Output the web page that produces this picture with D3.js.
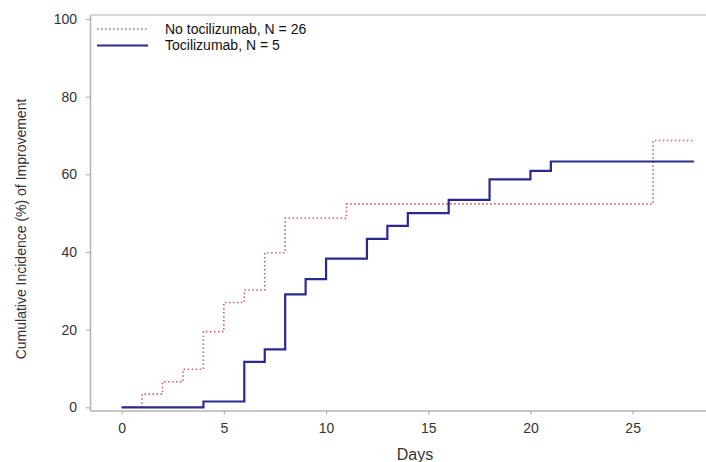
<!DOCTYPE html>
<html><head><meta charset="utf-8">
<script src="https://cdn.jsdelivr.net/npm/d3@7"></script>
<style>body{margin:0;background:#fff}svg{display:block;font-family:"Liberation Sans",Arial,sans-serif}</style>
</head><body><svg id="c" width="706" height="462"></svg>
<script>
// Data (days, cumulative incidence %)
const seriesNames = ["No tocilizumab, N = 26", "Tocilizumab, N = 5"];
const noTociDays = [0, 1, 2, 3, 4, 5, 6, 7, 8, 11, 26, 28];
const noTociValues = [0, 3.4, 6.6, 9.8, 19.5, 27.0, 30.2, 39.8, 48.7, 52.4, 68.7, 68.7];
const tociDays = [0, 4, 6, 7, 8, 9, 10, 12, 13, 14, 16, 18, 20, 21, 28];
const tociValues = [0, 1.5, 11.7, 14.9, 29.1, 33.0, 38.3, 43.4, 46.7, 50.0, 53.4, 58.7, 60.9, 63.3, 63.3];
const xTicks = [0, 5, 10, 15, 20, 25];
const yTicks = [0, 20, 40, 60, 80, 100];

const svg = d3.select("#c");
const x = d3.scaleLinear().domain([-1.55, 28.59]).range([90, 706]);
const y = d3.scaleLinear().domain([-0.82, 101.03]).range([410.5, 15]);
const axisColor = "#b3b3b3", textColor = "#333";

// top border
svg.append("line").attr("x1", 90).attr("x2", 706).attr("y1", 15).attr("y2", 15)
  .attr("stroke", "#c8c8c8").attr("stroke-width", 1.5);

const xa = svg.append("g").attr("transform", "translate(0,410.5)")
  .call(d3.axisBottom(x).tickValues(xTicks).tickSize(4).tickSizeOuter(0).tickPadding(9));
const ya = svg.append("g").attr("transform", "translate(90,0)")
  .call(d3.axisLeft(y).tickValues(yTicks).tickSize(4).tickSizeOuter(0).tickPadding(9));
[xa, ya].forEach(g => {
  g.select(".domain").attr("stroke", axisColor).attr("stroke-width", 1.5);
  g.selectAll(".tick line").attr("stroke", axisColor).attr("stroke-width", 1.2);
  g.selectAll(".tick text").attr("fill", textColor).attr("font-size", 14)
    .attr("font-family", "Liberation Sans, Arial, sans-serif");
});

const line = d3.line().x(d => x(d[0])).y(d => y(d[1])).curve(d3.curveStepAfter);
const noToci = noTociDays.map((d, i) => [d, noTociValues[i]]);
const toci = tociDays.map((d, i) => [d, tociValues[i]]);

const redStyle = {stroke: "#c8606e", width: 1.6, dash: "1.5,2.5"};
const blueStyle = {stroke: "#2a2a8e", width: 2.2, dash: null};

svg.append("path").datum(noToci).attr("d", line).attr("fill", "none")
  .attr("stroke", redStyle.stroke).attr("stroke-width", redStyle.width)
  .attr("stroke-dasharray", redStyle.dash);
svg.append("path").datum(toci).attr("d", line).attr("fill", "none")
  .attr("stroke", blueStyle.stroke).attr("stroke-width", blueStyle.width);

// legend
const lg = svg.append("g");
[redStyle, blueStyle].forEach((s, i) => {
  const yy = 29 + i * 16.5;
  lg.append("line").attr("x1", 97).attr("x2", 148).attr("y1", yy).attr("y2", yy)
    .attr("stroke", s.stroke).attr("stroke-width", s.width)
    .attr("stroke-dasharray", s.dash);
  lg.append("text").attr("x", 165).attr("y", yy + 4.8).attr("font-size", 14)
    .attr("fill", "#111").text(seriesNames[i]);
});

// axis labels
svg.append("text").attr("x", 415).attr("y", 460).attr("text-anchor", "middle")
  .attr("font-size", 16).attr("fill", textColor).text("Days");
svg.append("text").attr("transform", "translate(26,229) rotate(-90)")
  .attr("text-anchor", "middle").attr("font-size", 14).attr("fill", textColor)
  .text("Cumulative Incidence (%) of Improvement");
</script></body></html>
